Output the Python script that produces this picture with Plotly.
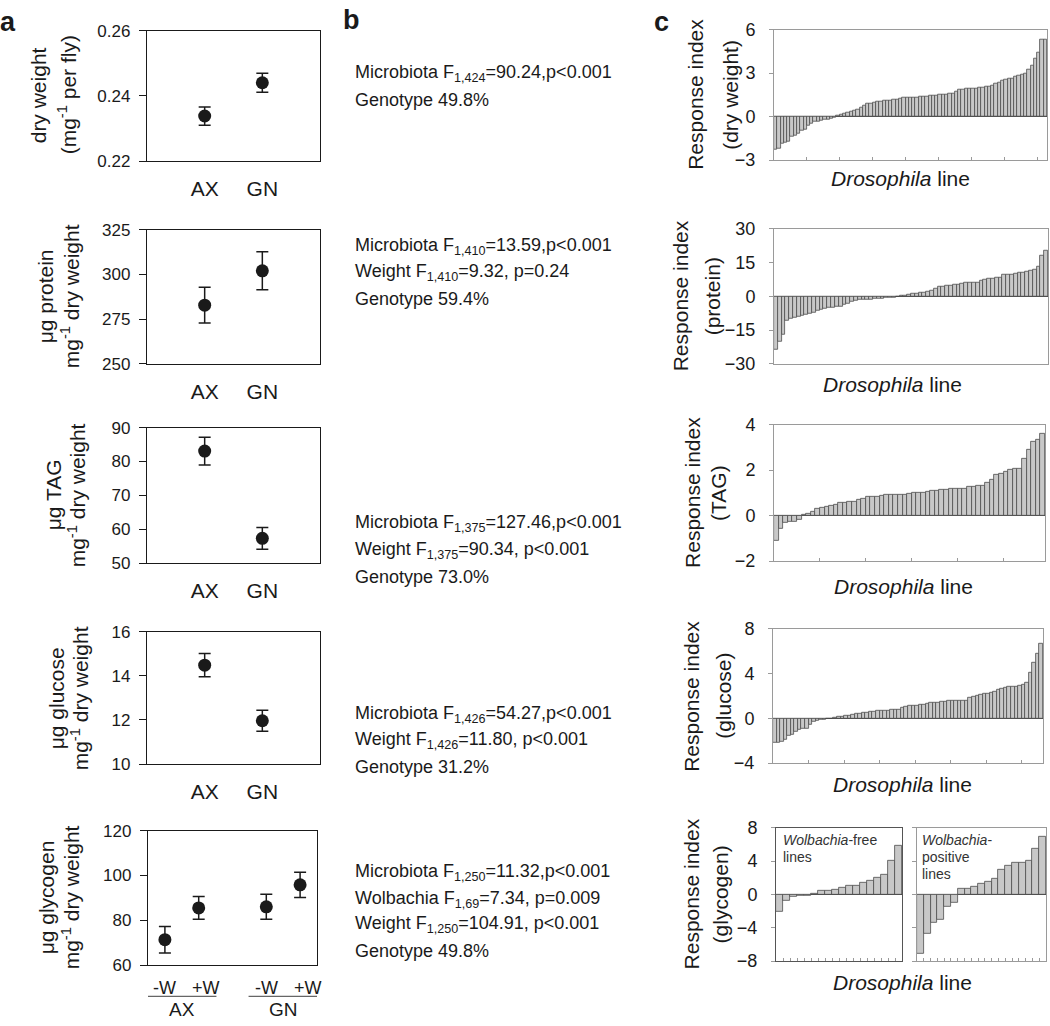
import plotly.graph_objects as go

# ---------------- data ----------------
groups = ["AX", "GN"]
dw_mean = [0.2338, 0.2440]
dw_err = [0.0028, 0.0029]
prot_mean = [282.8, 302.0]
prot_err = [10.0, 10.6]
tag_mean = [83.1, 57.3]
tag_err = [4.1, 3.2]
glu_mean = [14.48, 11.96]
glu_err = [0.53, 0.48]
wol_labels = ["-W", "+W"]
glyc_mean = [71.3, 85.5, 86.0, 95.8]   # AX-W, AX+W, GN-W, GN+W
glyc_err = [5.9, 5.1, 5.6, 5.6]

ri_dry = [-2.25, -2.2, -1.9, -1.8, -1.75, -1.4, -1.3, -1.15, -1.0, -0.92, -0.63, -0.52,
          -0.38, -0.34, -0.3, -0.22, -0.18, -0.12, -0.08,
          0.07, 0.1, 0.2, 0.28, 0.35, 0.4, 0.45, 0.6, 0.75,
          0.9, 0.92, 0.95, 1.0, 1.05, 1.08, 1.1, 1.12, 1.15, 1.18,
          1.25, 1.28, 1.3, 1.3, 1.32, 1.33, 1.35, 1.38, 1.4, 1.42, 1.45, 1.47, 1.5, 1.5, 1.52, 1.55, 1.6, 1.7,
          1.85, 1.88, 1.9, 1.9, 1.92, 1.95, 1.98, 2.0, 2.05,
          2.1, 2.15, 2.25, 2.35, 2.45, 2.55, 2.6, 2.65, 2.75, 2.85, 2.9, 2.95,
          3.25, 3.5, 4.0, 4.4, 5.3, 5.3]
ri_prot = [-23.8, -20.2, -16.9, -11.0, -10.0, -9.6, -9.0, -8.6, -8.1, -7.8, -7.1, -6.4, -6.1,
           -5.5, -5.2, -4.9, -4.6, -4.4, -3.9, -3.2, -2.3, -2.0, -1.7, -1.6, -1.45, -1.3, -1.2,
           -1.0, -0.9, -0.7, -0.6, -0.4, -0.3,
           0.2, 0.5, 0.9, 1.2, 1.4, 1.6, 1.8, 2.2, 2.7, 3.3,
           4.4, 4.5, 4.6, 4.8, 5.0, 5.3, 5.7, 6.0, 6.2, 6.2, 6.2,
           7.0, 7.5, 7.9, 8.0, 8.1,
           8.4, 9.7, 9.8, 9.8, 10.0, 10.3, 10.6, 11.0, 11.4, 12.0, 13.0,
           18.2, 20.3]
ri_tag = [-1.12, -0.6, -0.3, -0.28, -0.25, -0.2,
          0.03, 0.08, 0.15, 0.3, 0.35, 0.38, 0.45, 0.48, 0.55, 0.58,
          0.6, 0.6, 0.7, 0.75, 0.82, 0.83, 0.85, 0.87, 0.9, 0.92,
          0.92, 0.92, 0.92, 0.95, 1.0, 1.0, 1.02, 1.05, 1.08, 1.1,
          1.12, 1.15, 1.17, 1.18, 1.2, 1.2, 1.25, 1.28, 1.3, 1.32,
          1.45, 1.6, 1.78, 1.85, 1.92, 2.0, 2.05, 2.05, 2.5, 2.9,
          3.25, 3.35, 3.6]
ri_glu = [-2.2, -2.2, -2.1, -1.9, -1.6, -1.5, -1.2, -1.0, -0.9, -0.9, -0.6, -0.3, -0.25,
          -0.15, -0.1, -0.05, -0.03,
          0.05, 0.1, 0.1, 0.2, 0.2, 0.3, 0.4, 0.45, 0.5, 0.5,
          0.55, 0.6, 0.65, 0.65, 0.65, 0.7, 0.75, 0.75, 0.8, 0.9,
          1.0, 1.1, 1.1, 1.15, 1.2, 1.25, 1.3, 1.35, 1.35, 1.4,
          1.45, 1.5, 1.55, 1.6, 1.6, 1.6, 1.6, 1.6, 1.85, 1.95,
          2.0, 2.1, 2.15, 2.2, 2.3, 2.4, 2.55, 2.6, 2.75, 2.8,
          2.85, 2.85, 2.95, 3.0, 3.2, 4.1, 5.0, 5.8, 6.7]
ri_glyc_free = [-2.1, -0.7, -0.3, -0.2, -0.1, 0.1, 0.5, 0.5, 0.6, 0.8, 1.1, 1.1, 1.4, 1.7,
                2.0, 2.4, 4.1, 5.8]
ri_glyc_pos = [-7.1, -4.7, -3.4, -3.0, -1.5, -1.0, 0.7, 0.7, 0.9, 1.3, 1.5, 1.9, 3.0, 3.5,
               3.8, 3.8, 4.0, 5.5, 6.9]

stats_text = [
    ["Microbiota F<sub>1,424</sub>=90.24,p&lt;0.001", "Genotype 49.8%"],
    ["Microbiota F<sub>1,410</sub>=13.59,p&lt;0.001", "Weight F<sub>1,410</sub>=9.32, p=0.24",
     "Genotype 59.4%"],
    ["Microbiota F<sub>1,375</sub>=127.46,p&lt;0.001", "Weight F<sub>1,375</sub>=90.34, p&lt;0.001",
     "Genotype 73.0%"],
    ["Microbiota F<sub>1,426</sub>=54.27,p&lt;0.001", "Weight F<sub>1,426</sub>=11.80, p&lt;0.001",
     "Genotype 31.2%"],
    ["Microbiota F<sub>1,250</sub>=11.32,p&lt;0.001", "Wolbachia F<sub>1,69</sub>=7.34, p=0.009",
     "Weight F<sub>1,250</sub>=104.91, p&lt;0.001", "Genotype 49.8%"],
]

# ---------------- layout helpers ----------------
W, H = 1050, 1026
FONT = "Arial, 'Liberation Sans', Helvetica, sans-serif"
DARK = "#1a1a1a"
GREY = "#9a9a9a"


def X(px):
    return px / W


def Y(py):
    return 1 - py / H


fig = go.Figure()
layout = dict(width=W, height=H, margin=dict(l=0, r=0, t=0, b=0),
              paper_bgcolor="white", plot_bgcolor="white", showlegend=False,
              bargap=0, font=dict(family=FONT, color=DARK))
annotations = []
shapes = []


def ann(text, px, py, size, angle=0, xanchor="center", yanchor="middle", color=DARK):
    annotations.append(dict(text=text, x=X(px), y=Y(py), xref="paper", yref="paper",
                            showarrow=False, textangle=angle, xanchor=xanchor,
                            yanchor=yanchor, font=dict(size=size, color=color, family=FONT)))


# ---------------- panel a ----------------
a_rows = [
    (dw_mean, dw_err, (21, 154), [0.22, 0.26], [0.22, 0.24, 0.26], ".2f"),
    (prot_mean, prot_err, (224, 361), [250, 325], [250, 275, 300, 325], None),
    (tag_mean, tag_err, (426, 564), [50, 90], [50, 60, 70, 80, 90], None),
    (glu_mean, glu_err, (634, 769), [10, 16], [10, 12, 14, 16], None),
]
for i, (m, e, (top, bot), yr, tv, fmt) in enumerate(a_rows, start=1):
    fig.add_trace(go.Scatter(x=groups, y=m, mode="markers",
                             marker=dict(size=13, color=DARK),
                             error_y=dict(type="data", array=e, color=DARK, thickness=1.5, width=6),
                             xaxis=f"x{i}", yaxis=f"y{i}"))
    layout[f"xaxis{i}"] = dict(domain=[X(147), X(320)], anchor=f"y{i}", type="category",
                               categoryorder="array", categoryarray=groups, range=[-1, 2],
                               showline=True, mirror=True, linecolor=DARK, linewidth=1.3,
                               ticks="outside", ticklen=9, tickcolor="rgba(0,0,0,0)",
                               tickfont=dict(size=21), showgrid=False, zeroline=False)
    yax = dict(domain=[Y(bot), Y(top)], anchor=f"x{i}", range=yr, tickvals=tv,
               showline=True, mirror=True, linecolor=DARK, linewidth=1.3,
               ticks="outside", ticklen=7, tickcolor=DARK, tickwidth=1.3,
               tickfont=dict(size=17), showgrid=False, zeroline=False, ticklabelstandoff=5)
    if fmt:
        yax["tickformat"] = fmt
    layout[f"yaxis{i}"] = yax

# glycogen row (grouped AX / GN x -W / +W)
SUB_GAP, GROUP_GAP = 2, 6
LABEL_SHIFT = [0.0, 0.45]
glyc_x = []
for g in range(len(groups)):
    for s in range(len(wol_labels)):
        glyc_x.append(g * GROUP_GAP + s * SUB_GAP)
fig.add_trace(go.Scatter(x=glyc_x, y=glyc_mean, mode="markers",
                         marker=dict(size=13, color=DARK),
                         error_y=dict(type="data", array=glyc_err, color=DARK, thickness=1.5, width=6),
                         xaxis="x5", yaxis="y5"))
layout["xaxis5"] = dict(domain=[X(148), X(317)], anchor="y5", range=[-1, 9],
                        showticklabels=False, ticks="",
                        showline=True, mirror=True, linecolor=DARK, linewidth=1.3,
                        showgrid=False, zeroline=False)
layout["yaxis5"] = dict(domain=[Y(974), Y(837)], anchor="x5", range=[60, 120],
                        tickvals=[60, 80, 100, 120],
                        showline=True, mirror=True, linecolor=DARK, linewidth=1.3,
                        ticks="outside", ticklen=7, tickcolor=DARK, tickwidth=1.3,
                        tickfont=dict(size=17), showgrid=False, zeroline=False, ticklabelstandoff=5)
for g, name in enumerate(groups):
    xs = glyc_x[g * 2:(g + 1) * 2]
    for s, w in enumerate(wol_labels):
        annotations.append(dict(text=w, x=xs[s] + LABEL_SHIFT[s], y=Y(997), xref="x5", yref="paper",
                                showarrow=False, xanchor="center", yanchor="middle",
                                font=dict(size=18, color=DARK, family=FONT)))
    cx = sum(xs) / len(xs)
    shapes.append(dict(type="line", xref="x5", yref="paper", x0=cx - 2.05, x1=cx + 2.05,
                       y0=Y(1006), y1=Y(1006), line=dict(color="#666", width=1.2)))
    annotations.append(dict(text=name, x=cx, y=Y(1019), xref="x5", yref="paper",
                            showarrow=False, xanchor="center", yanchor="middle",
                            font=dict(size=19, color=DARK, family=FONT)))

# panel a y titles (two lines each)
a_titles = [
    ("dry weight", "(mg<sup>-1</sup> per fly)", 38, 67, 87),
    ("\u03bcg protein", "mg<sup>-1</sup> dry weight", 45, 70, 292),
    ("\u03bcg TAG", "mg<sup>-1</sup> dry weight", 53, 77, 495),
    ("\u03bcg glucose", "mg<sup>-1</sup> dry weight", 56, 80, 702),
    ("\u03bcg glycogen", "mg<sup>-1</sup> dry weight", 46, 71, 905),
]
for l1, l2, x1, x2, yc in a_titles:
    ann(l1, x1, yc, 21, angle=-90)
    ann(l2, x2, yc, 21, angle=-90)

# ---------------- panel b ----------------
b_lines_y = [[65, 92], [241, 268, 295], [524, 551, 578], [718, 745, 772], [880, 907, 933, 960]]
for lines, ys in zip(stats_text, b_lines_y):
    for t, yy in zip(lines, ys):
        ann(t, 353, yy, 18, xanchor="left")

# ---------------- panel c ----------------
c_rows = [
    (ri_dry, 6, (774, 1047), (20, 153), [-3, 6], [-3, 0, 3, 6], 10, "(dry weight)", 696, 731, 172, 900),
    (ri_prot, 7, (774, 1048), (223, 361), [-30, 30], [-30, -15, 0, 15, 30], None, "(protein)", 680, 712, 382, 892),
    (ri_tag, 8, (774, 1045), (423, 562), [-2, 4], [-2, 0, 2, 4], 10, "(TAG)", 693, 719, 588, 903),
    (ri_glu, 9, (773, 1043), (631, 768), [-4, 8], [-4, 0, 4, 8], 10, "(glucose)", 692, 724, 790, 902),
]


def bar_axes(idx, vals, xd, yd, yr, tv, every, showlabels=True, boxcolor=GREY):
    n = len(vals)
    xs = list(range(1, n + 1))
    fig.add_trace(go.Bar(x=xs, y=vals, width=1,
                         marker=dict(color="#c8c8c8", line=dict(color="#4d4d4d", width=0.8)),
                         xaxis=f"x{idx}", yaxis=f"y{idx}"))
    tvals = [k + 0.5 for k in range(every, n, every)] if every else []
    layout[f"xaxis{idx}"] = dict(domain=[X(xd[0]), X(xd[1])], anchor=f"y{idx}",
                                 range=[0.5, n + 0.5], showticklabels=False,
                                 tickvals=tvals, ticks="inside", ticklen=3, tickcolor=GREY,
                                 showline=True, mirror=True, linecolor=boxcolor, linewidth=1,
                                 showgrid=False, zeroline=False)
    layout[f"yaxis{idx}"] = dict(domain=[Y(yd[1]), Y(yd[0])], anchor=f"x{idx}", range=yr,
                                 tickvals=tv, showticklabels=showlabels,
                                 ticks="outside", ticklen=4, tickcolor=GREY,
                                 showline=True, mirror=True, linecolor=boxcolor, linewidth=1,
                                 tickfont=dict(size=18), ticklabelstandoff=10,
                                 showgrid=False, zeroline=True, zerolinecolor="#333",
                                 zerolinewidth=1)


for vals, idx, xd, yd, yr, tv, every, sub, tx1, tx2, dly, dlx in c_rows:
    bar_axes(idx, vals, xd, yd, yr, tv, every)
    yc = (yd[0] + yd[1]) / 2
    ann("Response index", tx1, yc, 21, angle=-90)
    ann(sub, tx2, yc, 21, angle=-90)
    ann("<i>Drosophila</i> line", dlx, dly, 21)

# glycogen: two sub-panels
bar_axes(10, ri_glyc_free, (776, 902), (834, 970), [-8, 8], [-8, -4, 0, 4, 8], 1,
         boxcolor="#555555")
bar_axes(11, ri_glyc_pos, (917, 1046), (834, 970), [-8, 8], [-8, -4, 0, 4, 8], 1,
         showlabels=False)
ann("Response index", 691, 902, 21, angle=-90)
ann("(glycogen)", 720, 902, 21, angle=-90)
ann("<i>Drosophila</i> line", 902, 992, 21)
ann("<i>Wolbachia</i>-free", 781, 847, 14, xanchor="left", color="#333")
ann("lines", 781, 864, 14, xanchor="left", color="#333")
ann("<i>Wolbachia</i>-", 920, 847, 14, xanchor="left", color="#333")
ann("positive", 920, 864, 14, xanchor="left", color="#333")
ann("lines", 920, 881, 14, xanchor="left", color="#333")

# panel letters
ann("<b>a</b>", 8, 12, 27)
ann("<b>b</b>", 351, 10, 27)
ann("<b>c</b>", 661, 12, 27)

layout["annotations"] = annotations
layout["shapes"] = shapes
fig.update_layout(**layout)
fig.write_html("out.html", config={"displayModeBar": False},
               post_script="document.body.style.margin='0px';document.body.style.overflow='hidden';")
